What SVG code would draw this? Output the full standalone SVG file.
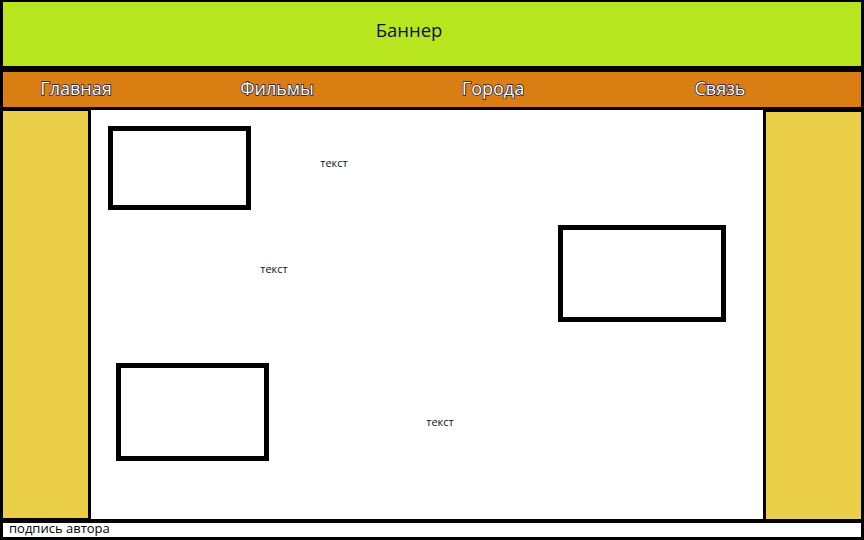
<svg xmlns="http://www.w3.org/2000/svg" width="864" height="540" viewBox="0 0 864 540">
<style>
.t{font-family:"Open Sans","Liberation Sans",sans-serif}
.nav{font-size:18px;fill:#ffffff;stroke:#0a1440;stroke-width:1.4;paint-order:stroke;text-anchor:middle}
.small{font-size:11px;fill:#111111;text-anchor:middle}
.box{fill:#ffffff;stroke:#000000;stroke-width:5}
</style>
<rect x="0" y="0" width="864" height="540" fill="#000000"/>
<g id="banner">
<rect x="3" y="2" width="858" height="64" fill="#B8E61E"/>
<text class="t" x="409" y="37" font-size="18.5" fill="#0c1240" text-anchor="middle">Баннер</text>
</g>
<g id="nav">
<rect x="3" y="72" width="858" height="35" fill="#D97E12"/>
<text class="t nav" x="76" y="95">Главная</text>
<text class="t nav" x="277" y="95">Фильмы</text>
<text class="t nav" x="493" y="95">Города</text>
<text class="t nav" x="720" y="95">Связь</text>
</g>
<g id="left-sidebar">
<rect x="3" y="111" width="85" height="407" fill="#ECCF48"/>
</g>
<g id="main">
<rect x="91" y="110" width="672" height="409" fill="#ffffff"/>
</g>
<g id="right-sidebar">
<rect x="766" y="112" width="95" height="407" fill="#ECCF48"/>
</g>
<g id="box1"><rect class="box" x="110.5" y="128.5" width="138" height="79"/></g>
<g id="box2"><rect class="box" x="560.5" y="227.5" width="163" height="92"/></g>
<g id="box3"><rect class="box" x="118.5" y="365.5" width="148" height="93"/></g>
<g id="text1"><text class="t small" x="334" y="167">текст</text></g>
<g id="text2"><text class="t small" x="274" y="273">текст</text></g>
<g id="text3"><text class="t small" x="440" y="426">текст</text></g>
<g id="footer">
<rect x="3" y="523" width="858" height="14" fill="#ffffff"/>
<text class="t" x="9" y="533" font-size="13" fill="#000000">подпись автора</text>
</g>
<g id="connectors"></g>
</svg>
